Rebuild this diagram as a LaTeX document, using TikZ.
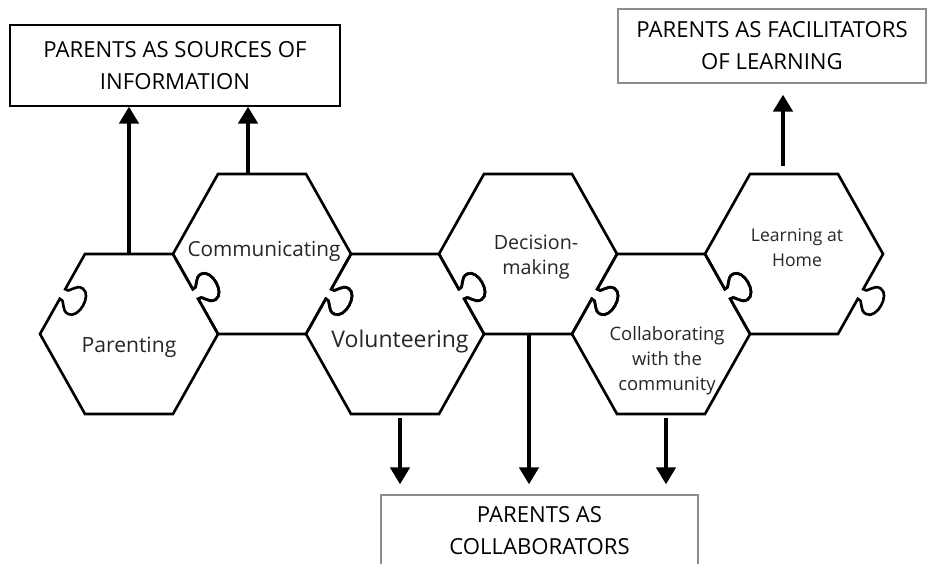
\documentclass[tikz,border=0pt]{standalone}
\usepackage{fontspec}
\setmainfont{Open Sans}
\usetikzlibrary{calc,arrows.meta}

% puzzle edge: knob (outward) or hole (inward) in the middle of an edge
\tikzset{
  tab/.style={to path={
    -- ($(\tikztostart)!0.44!(\tikztotarget)$)
    .. controls ($(\tikztostart)!0.47!(\tikztotarget)!0.10cm!#1:(\tikztotarget)$)
            and ($(\tikztostart)!0.33!(\tikztotarget)!0.13cm!#1:(\tikztotarget)$)
    .. ($(\tikztostart)!0.34!(\tikztotarget)!0.30cm!#1:(\tikztotarget)$)
    .. controls ($(\tikztostart)!0.35!(\tikztotarget)!0.53cm!#1:(\tikztotarget)$)
            and ($(\tikztostart)!0.65!(\tikztotarget)!0.53cm!#1:(\tikztotarget)$)
    .. ($(\tikztostart)!0.66!(\tikztotarget)!0.30cm!#1:(\tikztotarget)$)
    .. controls ($(\tikztostart)!0.67!(\tikztotarget)!0.13cm!#1:(\tikztotarget)$)
            and ($(\tikztostart)!0.53!(\tikztotarget)!0.10cm!#1:(\tikztotarget)$)
    .. ($(\tikztostart)!0.56!(\tikztotarget)$)
    -- (\tikztotarget)}},
  knob/.style={tab=90},
  hole/.style={tab=-90}
}

\begin{document}
\begin{tikzpicture}[x=0.02cm, y=-0.02cm,
    piece/.style={line width=1.5pt},
    flow/.style={line width=2.7pt, -{Triangle[width=0.38cm,length=0.34cm]}},
    role/.style={draw, line width=0.7pt, align=center, inner sep=0pt,
                 font=\fontsize{12.6}{18.3}\selectfont},
    lbl/.style={align=center, text=black!85, inner sep=0pt}]
    \clip (0,0) rectangle (927,564);

    \coordinate (par) at (129,334);
    \coordinate (com) at (262,254);
    \coordinate (vol) at (395,334);
    \coordinate (dec) at (528,254);
    \coordinate (col) at (661,334);
    \coordinate (lrn) at (794,254);

    % lower pieces
    \draw[piece] ($(par)+(-89,0)$) to[hole] ++(45,-80) -- ++(88,0) to[knob] ++(45,80) -- ++(-45,80) -- ++(-88,0) -- cycle;
    \draw[piece] ($(vol)+(-89,0)$) to[hole] ++(45,-80) -- ++(88,0) to[knob] ++(45,80) -- ++(-45,80) -- ++(-88,0) -- cycle;
    \draw[piece] ($(col)+(-89,0)$) to[hole] ++(45,-80) -- ++(88,0) to[knob] ++(45,80) -- ++(-45,80) -- ++(-88,0) -- cycle;
    % upper pieces
    \draw[piece] ($(com)+(-44,80)$) to[hole] ++(-45,-80) -- ++(45,-80) -- ++(88,0) -- ++(45,80) to[knob] ++(-45,80) -- cycle;
    \draw[piece] ($(dec)+(-44,80)$) to[hole] ++(-45,-80) -- ++(45,-80) -- ++(88,0) -- ++(45,80) to[knob] ++(-45,80) -- cycle;
    \draw[piece] ($(lrn)+(-44,80)$) to[hole] ++(-45,-80) -- ++(45,-80) -- ++(88,0) -- ++(45,80) to[knob] ++(-45,80) -- cycle;

    \node[lbl, font=\fontsize{12}{14}\selectfont] (parT) at (129,347) {Parenting};
    \node[lbl, font=\fontsize{11.8}{14}\selectfont] (comT) at (264,251) {Communicating};
    \node[lbl, font=\fontsize{13.1}{16}\selectfont] (volT) at (400,342) {Volunteering};
    \node[lbl, font=\fontsize{11.2}{14.2}\selectfont] (decT) at (536,257) {Decision-\\making};
    \node[lbl, font=\fontsize{10.5}{14.2}\selectfont] (colT) at (667,361) {Collaborating\\with the\\community};
    \node[lbl, font=\fontsize{10}{14.2}\selectfont] (lrnT) at (797,248) {Learning at\\Home};

    \node[role, minimum width=6.6cm, minimum height=1.62cm] (info) at (175,65.5) {PARENTS AS SOURCES OF\\INFORMATION};
    \node[role, draw=black!45, minimum width=6.16cm, minimum height=1.48cm] (fac) at (772,46) {PARENTS AS FACILITATORS\\OF LEARNING};
    \node[role, draw=black!45, minimum width=6.34cm, minimum height=1.44cm] (colb) at (539.5,531) {PARENTS AS\\COLLABORATORS};

    \draw[flow] ($(par)+(0,-80)$) -- (par |- info.south);
    \draw[flow] ($(com)+(-14,-80)$) coordinate (c2) -- (c2 |- info.south);
    \draw[flow, shorten >=0.22cm] ($(lrn)+(-11,-88)$) coordinate (l2) -- (l2 |- fac.south);
    \draw[flow, shorten >=0.2cm] ($(vol)+(5,84)$) coordinate (v2) -- (v2 |- colb.north);
    \draw[flow, shorten >=0.2cm] ($(dec)+(1,80)$) coordinate (d2) -- (d2 |- colb.north);
    \draw[flow, shorten >=0.2cm] ($(col)+(5,84)$) coordinate (o2) -- (o2 |- colb.north);
\end{tikzpicture}
\end{document}
